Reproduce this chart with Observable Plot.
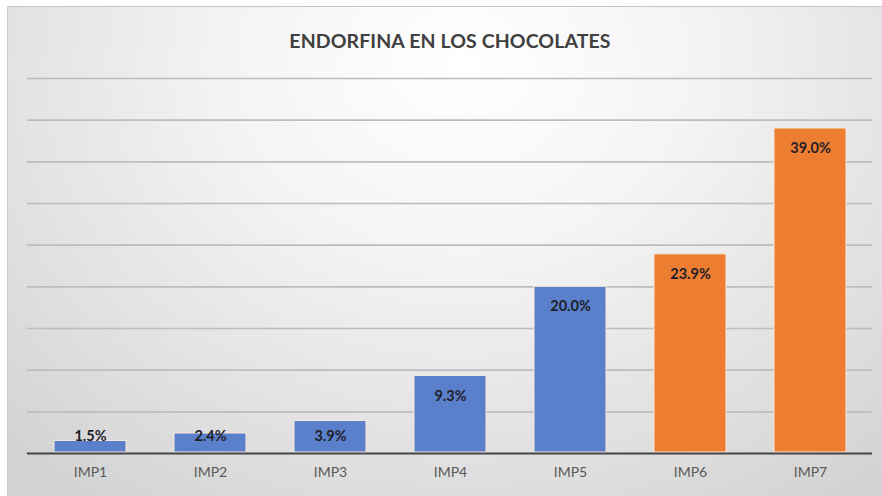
<!DOCTYPE html>
<html>
<head>
<meta charset="utf-8">
<script src="https://cdn.jsdelivr.net/npm/d3@7"></script>
<script src="https://cdn.jsdelivr.net/npm/@observablehq/plot@0.6"></script>
<style>
  html, body { margin: 0; padding: 0; background: #ffffff; }
  #wrap { position: relative; width: 882px; height: 496px; overflow: hidden; background: #ffffff; }
  #panel {
    position: absolute; left: 7px; top: 6px; right: 0; bottom: 0;
    background: radial-gradient(ellipse 75% 110% at 52% 12%, #ffffff 0%, #f4f4f4 35%, #e2e2e2 70%, #d2d2d2 100%);
    border-top: 1px solid #c4c4c4;
    border-left: 1px solid #cfcfcf;
  }
  #title {
    position: absolute; left: 0; width: 900px; top: 29px; text-align: center;
    font-family: Lato, "Open Sans", sans-serif; font-weight: 700; font-size: 19.5px;
    color: #404040; letter-spacing: 0.1px;
  }
  #chart { position: absolute; left: 0; top: 0; }
</style>
</head>
<body>
<div id="wrap">
  <div id="panel"></div>
  <div id="chart"></div>
  <div id="title">ENDORFINA EN LOS CHOCOLATES</div>
</div>
<script>
const categories = ["IMP1", "IMP2", "IMP3", "IMP4", "IMP5", "IMP6", "IMP7"];
const values = [1.5, 2.4, 3.9, 9.3, 20.0, 23.9, 39.0];
const groups = ["a", "a", "a", "a", "a", "b", "b"];
const gridTicks = [5, 10, 15, 20, 25, 30, 35, 40, 45];

const data = categories.map((c, i) => ({cat: c, v: values[i], g: groups[i]}));

const chart = Plot.plot({
  width: 882,
  height: 496,
  marginLeft: 27,
  marginRight: 10,
  marginTop: 78,
  marginBottom: 43,
  style: {background: "transparent", fontFamily: "Lato, 'Open Sans', sans-serif"},
  x: {domain: categories, paddingInner: 0.4, paddingOuter: 0.2, label: null},
  y: {domain: [0, 45], axis: null},
  color: {domain: ["a", "b"], range: ["#5a80cb", "#ed7d31"]},
  marks: [
    Plot.ruleY(gridTicks, {stroke: "#bdbdbd", strokeWidth: 1.6}),
    Plot.barY(data, {x: "cat", y: "v", fill: "g", stroke: "#f6e9dc", strokeWidth: 1, insetBottom: 1}),
    Plot.ruleY([0], {stroke: "#454545", strokeWidth: 2.2}),
    Plot.text(data, {
      x: "cat",
      y: d => Math.max(d.v, 4.45),
      dy: 20,
      text: d => d.v.toFixed(1) + "%",
      fill: "#1e1e28",
      fontWeight: 700,
      fontSize: 14.5
    }),
    Plot.axisX({tickSize: 0, tickPadding: 14, fontSize: 14, color: "#595959", label: null, letterSpacing: 0.5})
  ]
});
document.getElementById("chart").appendChild(chart);
</script>
</body>
</html>
